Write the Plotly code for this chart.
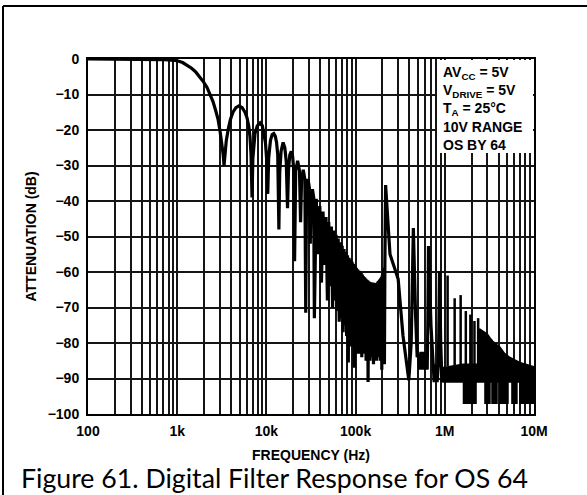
import plotly.graph_objects as go

# ---------------- data ----------------
# pass band and first side lobes (Hz, dB)
passband_freq_hz = [100, 200, 300, 400, 500, 600, 700, 800, 900, 1000, 1150, 1290, 1450, 1620,
                    1800, 1980, 2160, 2340, 2520, 2700, 2870, 3030, 3180, 3280, 3350]
passband_db = [0, 0, 0, 0, -0.05, -0.1, -0.15, -0.25, -0.35, -0.5, -1.0, -1.7, -2.6, -3.7,
               -5.0, -6.5, -8.0, -10, -12, -14.5, -17, -20.5, -24, -27, -30]

# side lobes (kHz, dB) : alternating lobe tops and nulls
lobe_freq_khz = [3.55, 3.75, 3.95, 4.22, 4.55, 4.93, 5.35, 5.75, 6.06, 6.35, 6.55, 6.73, 6.9,
                 7.05, 7.25, 7.45, 7.9, 8.5, 9.0, 9.4, 9.75, 10.05, 10.35,
                 10.6, 11.1, 11.6, 12.1, 12.6, 13.0, 13.4, 13.8,
                 14.1, 14.6, 15.4, 16.1, 16.7, 17.25,
                 17.7, 18.3, 19.0, 19.7, 20.2, 20.7,
                 21.3, 22.4, 23.5, 24.15,
                 24.8, 25.9, 27.0, 27.6,
                 28.2, 29.3, 30.4, 31.05,
                 31.7, 32.8, 33.9, 34.5,
                 36.2, 37.95, 39.7, 41.4, 43.1, 44.85, 46.6, 48.3, 50.0, 51.75,
                 53.5, 55.2, 56.9, 58.65, 60.4, 62.1, 63.8, 65.55, 67.3, 69.0,
                 70.7, 72.45, 74.2, 75.9, 77.6, 79.35, 81.1, 82.8, 84.5, 86.25,
                 88.0, 89.7, 91.4, 93.15, 94.9, 96.6, 98.3, 100.05, 101.8, 103.5,
                 105.2, 107.0, 108.7, 110.4, 112.1, 113.9, 115.6, 117.3, 119.0, 120.8,
                 122.5, 124.2, 126.0, 127.7, 129.4, 131.1, 132.8, 134.6, 136.3, 138.0,
                 139.7, 141.5, 143.2, 144.9, 146.6, 148.4, 150.1, 151.8, 153.5, 155.3,
                 157.0, 158.7, 160.4, 162.2, 163.9, 165.6, 167.3, 169.1, 170.8, 172.5,
                 174.2, 176.0, 177.7, 179.4, 181.1, 182.9, 184.6, 186.3, 188.0, 189.8,
                 191.5, 193.2, 194.9, 196.7, 198.4, 200.1, 201.8, 203.6, 205.3, 207.0,
                 208.7, 210.5]
lobe_db = [-23, -19.5, -17, -15, -13.7, -13.2, -13.7, -15, -16.5, -19, -22, -27, -39,
           -28, -23, -21, -18.8, -18, -18.8, -21, -23.5, -28, -38,
           -28, -23, -21.3, -21, -21.8, -23.5, -27, -48,
           -32, -26, -23.5, -25, -29, -42,
           -31, -27, -26, -27.5, -31, -57,
           -31.5, -28.7, -31.5, -46,
           -34, -31.2, -34, -71.5,
           -36.5, -33.8, -36.5, -52,
           -39, -36.7, -39, -73,
           -39.4, -55, -41.4, -63, -43, -58, -44.5, -68, -45.9, -64,
           -47.2, -70, -48.3, -68, -49.5, -71, -50.6, -74, -51.6, -73,
           -52.6, -77, -53.5, -75, -54.4, -78, -55.3, -85.5, -56, -79,
           -56.5, -81, -57.1, -80, -57.7, -87, -58.3, -82, -58.8, -83,
           -59.2, -82, -59.6, -83, -59.9, -82, -60.3, -84, -60.7, -82,
           -61.2, -83, -61.5, -83, -61.8, -85, -62.1, -84, -62.3, -91,
           -62.6, -84, -62.8, -85, -63.0, -83, -63.1, -84, -63.2, -84,
           -63.3, -86, -63.3, -84, -63.3, -84, -63.3, -85, -63.2, -85,
           -63.1, -84, -63, -84, -62.8, -84, -62.6, -85, -62.3, -85,
           -62, -84, -61.7, -87.5, -61.3, -84, -60.7, -84, -60, -85,
           -59, -86, -57.5]

# solid core of the dense lobe region (kHz, upper and lower dB)
core_freq_khz = [38, 45, 55, 65, 75, 90, 110, 140, 170, 200, 209]
core_top_db = [-44.5, -47.5, -50.5, -53, -55, -57.5, -60.5, -62.8, -63.2, -61, -58.5]
core_low_db = [-47, -55, -61, -67, -72, -77, -80, -82, -82, -82, -82]

# alias spikes and floor up to 1 MHz (kHz, dB)
alias_freq_khz = [213, 215, 217, 243, 300, 340, 395, 420, 432, 444, 470,
                  490, 505, 520, 540, 560, 580, 600, 620, 635, 645, 656,
                  700, 738, 760, 790, 820, 848, 860, 872, 900, 930, 955]
alias_db = [-48, -35.5, -55, -62, -78, -90.5, -80, -66, -47.6, -72, -84,
            -83, -87.5, -82.5, -87.5, -82.5, -87.5, -83, -87.5, -75, -52.7, -75,
            -88, -91, -86, -91, -86, -78, -59.7, -80, -91, -87, -89]

# noise floor band above 1 MHz (MHz, dB)
floor_top_mhz = [0.94, 1.6, 2.4, 2.45, 2.8, 3.0, 3.2, 3.45, 3.87, 4.1, 4.7, 5.3, 6.9, 10.0]
floor_top_db = [-87, -86, -86, -76, -77, -77.5, -78.5, -79.5, -80.6, -81, -83, -84, -85.5, -86.7]
floor_bottom_mhz = [0.94, 1.62, 1.62, 1.75, 1.75, 1.82, 1.82, 2.02, 2.02, 2.07, 2.07, 2.24, 2.24,
                    2.82, 2.82, 3.21, 3.21, 3.38, 3.38, 3.85, 3.85, 4.16, 4.16, 5.11, 5.11,
                    5.66, 5.66, 6.44, 6.44, 6.96, 6.96, 10.0]
floor_bottom_db = [-91, -91, -97, -97, -91, -91, -97, -97, -91, -91, -97, -97, -91,
                   -91, -97, -97, -91, -91, -97, -97, -91, -91, -97, -97, -91,
                   -91, -97, -97, -91, -91, -97, -97]

# harmonic spikes standing on the floor (MHz, dB)
spike_freq_mhz = [1.075, 1.29, 1.505, 1.72, 1.935, 2.15, 2.365]
spike_top_db = [-61, -67.4, -66.5, -71, -72, -73.8, -73]
spike_base_db = -86.5

# axis ticks
x_tick_vals = [1e2, 1e3, 1e4, 1e5, 1e6, 1e7]
x_tick_text = ["100", "1k", "10k", "100k", "1M", "10M"]
x_minor_vals = [m * 10 ** e for e in range(2, 7) for m in range(2, 10)]
y_tick_vals = list(range(-100, 1, 10))
y_tick_text = [("\u2212" + str(-v)) if v < 0 else "0" for v in y_tick_vals]

legend_lines = ["AV<sub>CC</sub> = 5V", "V<sub>DRIVE</sub> = 5V", "T<sub>A</sub> = 25°C",
                "10V RANGE", "OS BY 64"]

# ---------------- figure ----------------
ARIAL = "Liberation Sans, Arial, Helvetica, sans-serif"
main_x = passband_freq_hz + [f * 1e3 for f in lobe_freq_khz] + [f * 1e3 for f in alias_freq_khz]
main_y = passband_db + lobe_db + alias_db

fig = go.Figure()

poly_x = [f * 1e6 for f in floor_top_mhz] + [f * 1e6 for f in floor_bottom_mhz[::-1]]
poly_y = floor_top_db + floor_bottom_db[::-1]
fig.add_trace(go.Scatter(x=poly_x, y=poly_y, mode="lines", fill="toself",
                         fillcolor="black", line=dict(color="black", width=1.5),
                         hoverinfo="skip", showlegend=False))

core_x = [f * 1e3 for f in core_freq_khz] + [f * 1e3 for f in core_freq_khz[::-1]]
core_y = core_top_db + core_low_db[::-1]
fig.add_trace(go.Scatter(x=core_x, y=core_y, mode="lines", fill="toself",
                         fillcolor="black", line=dict(color="black", width=0.5),
                         hoverinfo="skip", showlegend=False))

sx, sy = [], []
for f, t in zip(spike_freq_mhz, spike_top_db):
    sx += [f * 1e6, f * 1e6, None]
    sy += [spike_base_db, t, None]
fig.add_trace(go.Scatter(x=sx, y=sy, mode="lines", line=dict(color="black", width=2.5),
                         showlegend=False))

fig.add_trace(go.Scatter(x=main_x, y=main_y, mode="lines",
                         line=dict(color="black", width=3.2), showlegend=False))

GRID = "#151515"
fig.update_xaxes(type="log", range=[2, 7], tickvals=x_tick_vals, ticktext=x_tick_text,
                 showgrid=True, gridcolor=GRID, gridwidth=1.5,
                 minor=dict(tickvals=x_minor_vals, showgrid=True, gridcolor=GRID, gridwidth=1.5),
                 showline=True, mirror=True, linecolor="black", linewidth=2,
                 ticks="", ticklabelstandoff=3, automargin=False, zeroline=False,
                 tickfont=dict(family=ARIAL, size=14, color="black", weight="bold"))
fig.update_yaxes(range=[-100, 0], tickvals=y_tick_vals, ticktext=y_tick_text,
                 showgrid=True, gridcolor=GRID, gridwidth=1.5,
                 showline=True, mirror=True, linecolor="black", linewidth=2,
                 ticks="", ticklabelstandoff=4, automargin=False, zeroline=False,
                 tickfont=dict(family=ARIAL, size=14, color="black", weight="bold"))

L, R, T, B = 88, 53, 59, 81
W, H = 587, 495
pw, ph = W - L - R, H - T - B
def px(x):
    return (x - L) / pw
def py(y):
    return (H - B - y) / ph

# white box behind the conditions text (kept just inside the frame)
fig.add_shape(type="rect", xref="paper", yref="paper", x0=px(437), x1=px(533), y0=py(153), y1=py(60),
              fillcolor="white", line=dict(width=0), layer="above")
# outer figure frame (left and top edges)
fig.add_shape(type="line", xref="paper", yref="paper", x0=px(3), x1=px(590), y0=py(6), y1=py(6),
              line=dict(color="black", width=2))
fig.add_shape(type="line", xref="paper", yref="paper", x0=px(3), x1=px(3), y0=py(6), y1=py(500),
              line=dict(color="black", width=2))

fig.add_annotation(xref="paper", yref="paper", x=px(441), y=py(62), xanchor="left", yanchor="top",
                   text="<br>".join(legend_lines), align="left", showarrow=False,
                   font=dict(family=ARIAL, size=14, color="black", weight="bold"))
fig.add_annotation(xref="paper", yref="paper", x=0.5, y=py(455), xanchor="center", yanchor="middle",
                   text="FREQUENCY (Hz)", showarrow=False,
                   font=dict(family=ARIAL, size=14, color="black", weight="bold"))
fig.add_annotation(xref="paper", yref="paper", x=px(30), y=0.5, xanchor="center", yanchor="middle",
                   text="ATTENUATION (dB)", textangle=-90, showarrow=False,
                   font=dict(family=ARIAL, size=14, color="black", weight="bold"))
fig.add_annotation(xref="paper", yref="paper", x=px(19), y=py(478), xanchor="left", yanchor="middle",
                   text="Figure 61. Digital Filter Response for OS 64", showarrow=False,
                   font=dict(family="Lato, Open Sans, sans-serif", size=26.7, color="black"))

fig.update_layout(width=W, height=H, margin=dict(l=L, r=R, t=T, b=B, autoexpand=False),
                  paper_bgcolor="white", plot_bgcolor="white", template=None)

fig.write_html("out.html", config={"displayModeBar": False},
               post_script="document.body.style.margin='0';document.body.style.overflow='hidden';")
